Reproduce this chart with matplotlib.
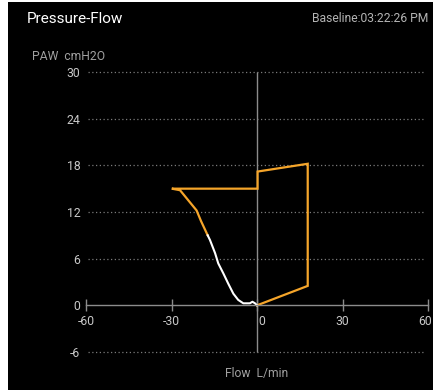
import matplotlib.pyplot as plt
from matplotlib.patches import Rectangle
from matplotlib.transforms import ScaledTranslation

plt.rcParams['font.family'] = ['Roboto', 'DejaVu Sans']

# dati
yticks = [-6, 0, 6, 12, 18, 24, 30]
xticks = [-60, -30, 0, 30, 60]
xtick_labels = ["-60", "-30", "0", "30", "60"]

# tratto arancione (inspirazione + ritorno)
orange_x = [0, 17.8, 17.8, 0.2, 0.2, -29.9, -27.0, -21.2, -19.6, -17.3]
orange_y = [0, 2.5, 18.2, 17.2, 15.0, 15.0, 14.8, 12.2, 10.8, 9.0]

# tratto bianco (espirazione)
white_x = [-17.3, -16.5, -14.7, -13.6, -11.8, -10.1, -8.3, -6.6, -4.8, -2.5, -1.6, -0.7, 0]
white_y = [9.0, 8.4, 6.7, 5.4, 4.1, 2.8, 1.5, 0.7, 0.26, 0.26, 0.46, 0.26, 0]

orange = '#f5a52a'

fig = plt.figure(figsize=(4.33, 3.9), dpi=100, facecolor='white')
fig.patches.append(Rectangle((8 / 433, 0), 1, 1 - 1.5 / 390, transform=fig.transFigure,
                             facecolor='black', edgecolor='none', zorder=-5))

ax = fig.add_axes([86 / 433, 1 - 352 / 390, 342 / 433, 280 / 390])
ax.patch.set_alpha(0)
ax.set_xlim(-60, 60)
ax.set_ylim(-6, 30)

for s in ['top', 'right', 'left']:
    ax.spines[s].set_visible(False)
ax.spines['bottom'].set_position(('data', 0))
ax.spines['bottom'].set_color('#8c8c8c')
ax.spines['bottom'].set_linewidth(1.0)

# griglia tratteggiata
for y in yticks:
    if y != 0:
        ax.hlines(y, -59.4, 59, colors='#7a7a7a', linestyles=(0, (1, 2)), linewidth=0.9, clip_on=False)

ax.vlines(0, -6, 30, colors='#8c8c8c', linewidth=1.0, clip_on=False)

ax.set_yticks(yticks)
ax.set_yticklabels([str(y) if y >= 0 else "-" + str(-y) for y in yticks])
ax.tick_params(axis='y', length=0, pad=4, labelcolor='#c8c8c8', labelsize=8.8)

ax.set_xticks(xticks)
ax.set_xticklabels(xtick_labels)
ax.tick_params(axis='x', direction='inout', length=8, width=1, color='#8c8c8c',
               pad=3, labelcolor='#c8c8c8', labelsize=8.8)
# etichetta "0" spostata a destra della linea verticale, "60" un po' a sinistra
lbls = ax.get_xticklabels()
lbls[2].set_transform(lbls[2].get_transform() + ScaledTranslation(5 / 100, 0, fig.dpi_scale_trans))
lbls[4].set_transform(lbls[4].get_transform() + ScaledTranslation(-3 / 100, 0, fig.dpi_scale_trans))

ax.plot(orange_x, orange_y, color=orange, linewidth=1.6, clip_on=False, solid_joinstyle='miter')
ax.plot(white_x, white_y, color='white', linewidth=1.5, clip_on=False)

fig.text(27 / 433, 1 - 19 / 390, "Pressure-Flow", color='white', fontsize=11, ha='left', va='center')
fig.text(428 / 433, 1 - 19 / 390, "Baseline:03:22:26 PM", color='#b4b4b4', fontsize=8.7, ha='right', va='center')
fig.text(32 / 433, 1 - 56 / 390, "PAW  cmH2O", color='#a0a0a0', fontsize=8.7, ha='left', va='center')
fig.text(225 / 433, 1 - 373 / 390, "Flow  L/min", color='#a0a0a0', fontsize=8.7, ha='left', va='center')

plt.savefig("out.png", dpi=100, facecolor='white')
